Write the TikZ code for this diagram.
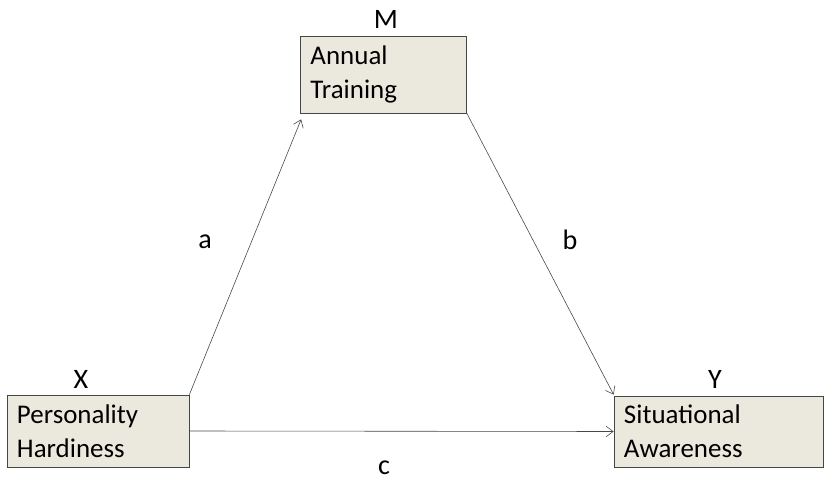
\documentclass[tikz,border=0pt]{standalone}
\usepackage{fontspec}
\setmainfont{Carlito}
\usetikzlibrary{arrows.meta}

\definecolor{boxfill}{RGB}{235,233,222}
\definecolor{linegray}{RGB}{70,70,70}

\tikzset{
  varbox/.style={draw=linegray, fill=boxfill, line width=0.6pt, inner xsep=0.3cm,
    align=left, font=\fontsize{23}{29}\selectfont},
  path/.style={draw=linegray, line width=0.5pt, -{Straight Barb[length=6pt,width=9pt]}},
  lbl/.style={font=\fontsize{24}{29}\selectfont}
}

\begin{document}
\begin{tikzpicture}[x=0.03cm, y=-0.03cm]
    \useasboundingbox (0,0) rectangle (828,481);

    % Variables
    \node[varbox, text width=4.38cm, minimum height=2.31cm] (M) at (383.5,74.5) {Annual\\Training};
    \node[varbox, text width=4.86cm, minimum height=2.16cm] (X) at (98,431) {Personality\\Hardiness};
    \node[varbox, text width=5.67cm, minimum height=2.13cm] (Y) at (718.5,431.5) {Situational\\Awareness};

    \node[lbl] (mlab) at (386,19) {M};
    \node[lbl] (xlab) at (81,379) {X};
    \node[lbl] (ylab) at (715,379) {Y};

    % Paths
    \draw[path] (X.north east) -- ([shift={(1,6)}]M.south west);
    \draw[path] (M.south east) -- ([shift={(0,-1)}]Y.north west);
    \draw[path] (X.east) -- (Y.west);

    \node[lbl] (alab) at (205,242) {a};
    \node[lbl] (blab) at (570,240) {b};
    \node[lbl] (clab) at (384,468) {c};
\end{tikzpicture}
\end{document}
